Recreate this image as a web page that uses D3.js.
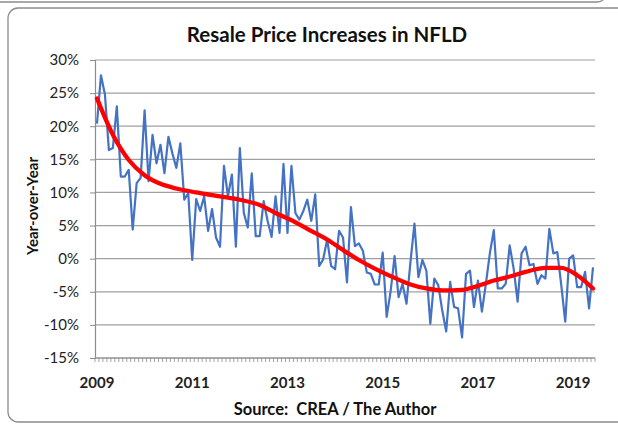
<!DOCTYPE html>
<html>
<head>
<meta charset="utf-8">
<script src="https://cdn.jsdelivr.net/npm/d3@7"></script>
<style>
  body { margin: 0; background: #fff; }
  svg { display: block; font-family: Lato, "Open Sans", sans-serif; }
</style>
</head>
<body>
<svg id="chart" width="618" height="426"></svg>
<script>
// year-over-year resale price change, monthly from Jan 2009
var startYear = 2009;
var yoy = [
  20.4, 27.7, 24.8, 16.4, 16.7, 23.0, 12.4, 12.4, 13.4, 4.4, 11.4, 12.2,
  22.4, 11.7, 18.7, 14.4, 17.2, 12.9, 18.4, 15.9, 13.7, 17.4, 8.9, 9.9,
  -0.2, 9.0, 7.2, 9.4, 4.2, 7.5, 3.2, 1.8, 14.0, 9.4, 12.7, 1.8,
  16.7, 6.9, 4.7, 12.9, 3.4, 3.4, 8.7, 5.7, 3.3, 9.4, 3.9, 14.3,
  3.9, 14.0, 6.9, 5.9, 7.2, 8.9, 5.7, 9.7, -1.1, -0.1, 2.9, -1.1,
  -1.6, 4.2, 3.2, -3.6, 7.8, 1.9, 2.3, 1.2, -2.1, -2.3, -3.9, -3.9,
  0.9, -8.8, -4.9, 0.4, -5.8, -3.8, -6.8, -0.5, 5.3, -2.8, -0.2, -1.8,
  -9.8, -3.0, -4.0, -7.8, -11.0, -3.5, -7.3, -7.5, -11.9, -2.3, -1.8, -7.3,
  -3.3, -8.0, -3.8, 0.8, 4.3, -4.5, -4.5, -3.8, 2.0, -1.5, -6.5, 0.8,
  1.8, -1.0, -0.8, -3.8, -2.5, -3.0, 4.5, 0.8, 1.0, -4.0, -9.5, 0.0,
  0.5, -4.3, -4.3, -2.0, -7.5, -1.3
];

// trend line (month index, value)
var trendMonths = [0, 4, 8, 12, 16, 20, 25, 31, 36, 41, 45, 50, 53, 58, 62, 66, 70, 75, 79, 83, 87, 92, 96, 100, 104, 108, 113, 117, 121, 125];
var trendValues = [24.2, 18.7, 14.9, 12.6, 11.3, 10.6, 10.0, 9.4, 8.9, 8.1, 6.9, 5.5, 4.5, 2.9, 1.3, -0.2, -1.5, -2.9, -3.9, -4.5, -4.8, -4.7, -4.1, -3.3, -2.7, -2.0, -1.4, -1.4, -2.5, -4.5];

var yTicks = [-15, -10, -5, 0, 5, 10, 15, 20, 25, 30];
var xLabelYears = [2009, 2011, 2013, 2015, 2017, 2019];

var svg = d3.select("#chart");
var plot = {left: 95, right: 595, top: 60, bottom: 358};

// frames
svg.append("rect")
  .attr("x", -20).attr("y", -100)
  .attr("width", 627).attr("height", 102)
  .attr("rx", 10)
  .attr("fill", "none").attr("stroke", "#8c8c8c").attr("stroke-width", 1.3);
svg.append("rect")
  .attr("x", 8).attr("y", 8)
  .attr("width", 640).attr("height", 414)
  .attr("rx", 10)
  .attr("fill", "#fff").attr("stroke", "#8c8c8c").attr("stroke-width", 1.3);

var months = d3.range(yoy.length);

var x = d3.scaleBand()
  .domain(months)
  .range([plot.left, plot.right]);

var y = d3.scaleLinear()
  .domain([-15, 30])
  .range([plot.bottom, plot.top]);

// gridlines
svg.append("g")
  .selectAll("line")
  .data(yTicks)
.enter().append("line")
  .attr("x1", plot.left).attr("x2", plot.right)
  .attr("y1", function(d) { return y(d); })
  .attr("y2", function(d) { return y(d); })
  .attr("stroke", "#a0a0a0").attr("stroke-width", 1.2);

// y axis
var yAxis = d3.axisLeft(y)
  .tickValues(yTicks)
  .tickSize(5)
  .tickPadding(11)
  .tickFormat(function(d) { return d + "%"; });

var gy = svg.append("g")
  .attr("transform", "translate(" + plot.left + ",0)")
  .call(yAxis);
gy.select(".domain").attr("stroke", "#8c8c8c").attr("stroke-width", 1.2);
gy.selectAll(".tick line").attr("stroke", "#8c8c8c");
gy.selectAll("text")
  .attr("fill", "#222")
  .style("font-size", "15px")
  .style("font-family", "Lato, sans-serif");

// x axis: tick marks between monthly categories
var boundaries = d3.range(yoy.length + 1);
svg.append("g")
  .selectAll("line")
  .data(boundaries)
.enter().append("line")
  .attr("x1", function(d) { return plot.left + d * x.step(); })
  .attr("x2", function(d) { return plot.left + d * x.step(); })
  .attr("y1", plot.bottom).attr("y2", plot.bottom + 4)
  .attr("stroke", "#8c8c8c").attr("stroke-width", 0.8);
svg.append("line")
  .attr("x1", plot.left).attr("x2", plot.right)
  .attr("y1", plot.bottom).attr("y2", plot.bottom)
  .attr("stroke", "#8c8c8c").attr("stroke-width", 1.2);

svg.append("g")
  .selectAll("text")
  .data(xLabelYears)
.enter().append("text")
  .attr("x", function(d) { return x((d - startYear) * 12) + x.bandwidth() / 2; })
  .attr("y", 388)
  .attr("text-anchor", "middle")
  .style("font-size", "15px")
  .style("font-weight", "bold")
  .attr("fill", "#222")
  .text(function(d) { return d; });

// series
var line = d3.line()
  .x(function(d, i) { return x(i) + x.bandwidth() / 2; })
  .y(function(d) { return y(d); });

svg.append("path")
  .datum(yoy)
  .attr("d", line)
  .attr("fill", "none")
  .attr("stroke", "#4472c4")
  .attr("stroke-width", 2.2)
  .attr("stroke-linejoin", "round");

var trend = d3.line()
  .x(function(d) { return x(d[0]) + x.bandwidth() / 2; })
  .y(function(d) { return y(d[1]); })
  .curve(d3.curveMonotoneX);

svg.append("path")
  .datum(d3.zip(trendMonths, trendValues))
  .attr("d", trend)
  .attr("fill", "none")
  .attr("stroke", "#ff0000")
  .attr("stroke-width", 4.3)
  .attr("stroke-linecap", "round");

// titles
svg.append("text")
  .attr("x", 327).attr("y", 42)
  .attr("text-anchor", "middle")
  .style("font-size", "20.5px")
  .style("font-weight", "bold")
  .attr("fill", "#111")
  .text("Resale Price Increases in NFLD");

svg.append("text")
  .attr("transform", "translate(38,206) rotate(-90)")
  .attr("text-anchor", "middle")
  .style("font-size", "15px")
  .style("font-weight", "bold")
  .attr("fill", "#111")
  .text("Year-over-Year");

svg.append("text")
  .attr("x", 335).attr("y", 415)
  .attr("text-anchor", "middle")
  .style("font-size", "16.5px")
  .style("font-weight", "bold")
  .style("white-space", "pre")
  .attr("fill", "#111")
  .text("Source:  CREA / The Author");
</script>
</body>
</html>
